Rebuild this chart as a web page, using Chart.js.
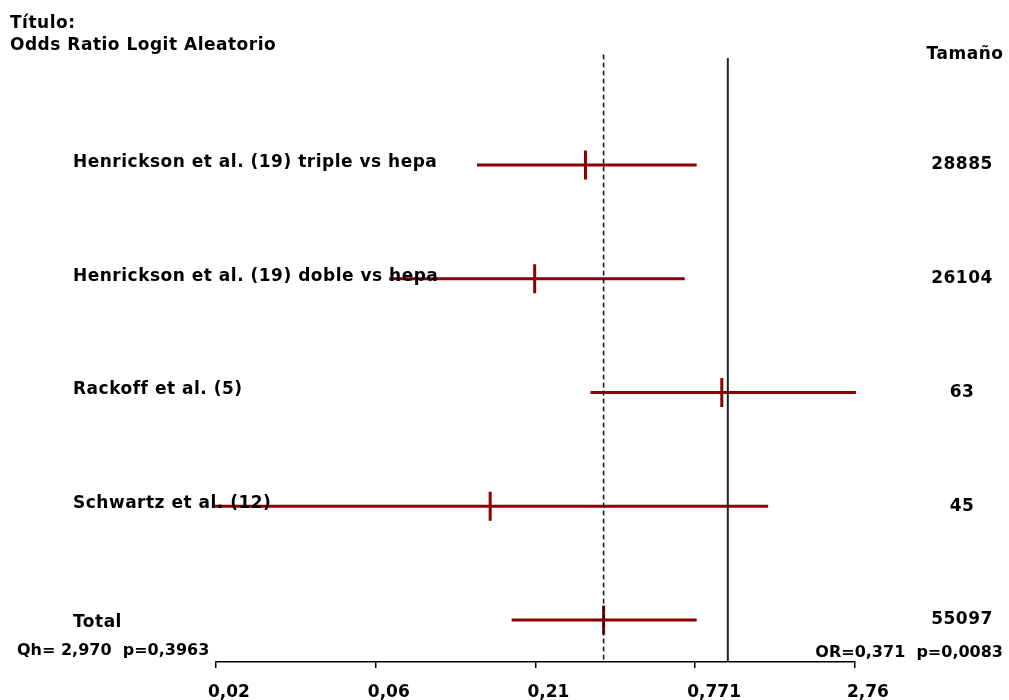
<!DOCTYPE html>
<html>
<head>
<meta charset="utf-8">
<title>Odds Ratio Logit Aleatorio</title>
<script src="https://cdn.jsdelivr.net/npm/chart.js@4.4.0/dist/chart.umd.min.js"></script>
<style>
  html, body { margin: 0; padding: 0; background: #fff; }
  #wrap { width: 1009px; height: 700px; }
</style>
</head>
<body>
<div id="wrap"><canvas id="forest" width="1009" height="700"></canvas></div>
<script>
// datos
const studies = [
  'Henrickson et al. (19) triple vs hepa',
  'Henrickson et al. (19) doble vs hepa',
  'Rackoff et al. (5)',
  'Schwartz et al. (12)',
  'Total'
];
const oddsRatio = [0.321, 0.214, 0.953, 0.150, 0.371];
const lowerCI = [0.135, 0.067, 0.334, 0.0165, 0.178];
const upperCI = [0.780, 0.709, 2.78, 1.38, 0.780];
const sizes = ['28885', '26104', '63', '45', '55097'];
const tickValues = [0.01681, 0.0602, 0.2154, 0.771, 2.76];
const tickLabels = ['0,02', '0,06', '0,21', '0,771', '2,76'];
const pooledOR = 0.371;
const nullOR = 1;

const red = '#8b0000';
const font = '"DejaVu Sans", sans-serif';
const yMin = 0.0593;
const yMax = 5.3693;

const datasets = [];

// lineas de referencia
datasets.push({
  data: [{ x: nullOR, y: yMin }, { x: nullOR, y: yMax }],
  showLine: true, borderColor: '#222', borderWidth: 2, pointRadius: 0
});
datasets.push({
  data: [{ x: pooledOR, y: yMin - 0.03 }, { x: pooledOR, y: yMax }],
  showLine: true, borderColor: '#111', borderWidth: 1.5, borderDash: [5, 3], pointRadius: 0
});

// intervalos
studies.forEach((s, i) => {
  datasets.push({
    data: [{ x: lowerCI[i], y: i + 1 }, { x: upperCI[i], y: i + 1 }],
    showLine: true, borderColor: red, borderWidth: 3, pointRadius: 0
  });
});

// estimaciones puntuales
datasets.push({
  data: oddsRatio.map((v, i) => ({ x: v, y: i + 1 })),
  showLine: false,
  pointStyle: 'line',
  rotation: 90,
  pointRadius: 14.5,
  pointBorderWidth: 3,
  pointBorderColor: red,
  borderColor: red
});

const textPlugin = {
  id: 'forestText',
  afterDraw(chart) {
    const ctx = chart.ctx;
    const yScale = chart.scales.y;
    ctx.save();
    ctx.fillStyle = '#000';
    ctx.font = 'bold 17px ' + font;
    ctx.letterSpacing = '0.5px';
    ctx.textBaseline = 'alphabetic';

    ctx.textAlign = 'left';
    ctx.fillText('Título:', 10, 28);
    ctx.fillText('Odds Ratio Logit Aleatorio', 10, 50);

    ctx.textAlign = 'center';
    ctx.fillText('Tamaño', 965, 59);

    studies.forEach((s, i) => {
      const py = yScale.getPixelForValue(i + 1);
      const dy = i === studies.length - 1 ? 7 : 2;
      ctx.textAlign = 'left';
      ctx.textBaseline = 'alphabetic';
      ctx.fillText(s, 73, py + dy);
      ctx.textAlign = 'center';
      ctx.textBaseline = 'middle';
      ctx.fillText(sizes[i], 962, py);
    });

    // heterogeneidad y efecto global
    ctx.font = 'bold 16px ' + font;
    ctx.letterSpacing = '0px';
    ctx.textBaseline = 'alphabetic';
    ctx.textAlign = 'left';
    ctx.fillText('Qh= 2,970  p=0,3963', 17, 655);
    ctx.textAlign = 'right';
    ctx.fillText('OR=0,371  p=0,0083', 1003, 657);
    ctx.restore();
  }
};

new Chart(document.getElementById('forest'), {
  type: 'scatter',
  data: { datasets },
  options: {
    responsive: false,
    animation: false,
    layout: { padding: { left: 216, right: 154, top: 58, bottom: 0 } },
    plugins: { legend: { display: false }, tooltip: { enabled: false } },
    elements: { line: { tension: 0 } },
    datasets: { scatter: { clip: false } },
    scales: {
      x: {
        type: 'logarithmic',
        min: tickValues[0],
        max: tickValues[tickValues.length - 1],
        afterBuildTicks: (scale) => {
          scale.ticks = tickValues.map(v => ({ value: v }));
        },
        afterFit: (scale) => { scale.height = 38; },
        border: { display: true, color: '#000', width: 1.5 },
        grid: {
          display: true, drawOnChartArea: false, drawTicks: true,
          tickLength: 6, color: '#000', lineWidth: 1.5
        },
        ticks: {
          autoSkip: false,
          maxRotation: 0,
          align: 'start',
          labelOffset: -8,
          padding: 14,
          color: '#000',
          font: { family: font, size: 17, weight: 'bold' },
          callback: (v, i) => tickLabels[i]
        }
      },
      y: {
        type: 'linear',
        reverse: true,
        min: yMin,
        max: yMax,
        display: false
      }
    }
  },
  plugins: [textPlugin]
});
</script>
</body>
</html>
